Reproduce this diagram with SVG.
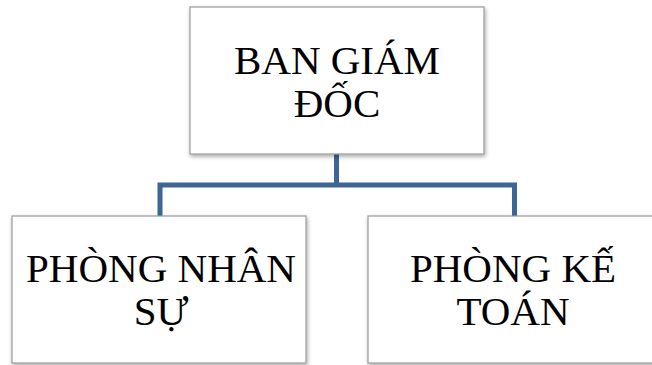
<svg xmlns="http://www.w3.org/2000/svg" width="652" height="365" viewBox="0 0 652 365">
  <defs>
    <filter id="shadow" x="-10%" y="-10%" width="120%" height="125%">
      <feGaussianBlur in="SourceAlpha" stdDeviation="2"/>
      <feOffset dx="1" dy="2" result="b"/>
      <feComponentTransfer><feFuncA type="linear" slope="0.35"/></feComponentTransfer>
      <feMerge><feMergeNode/><feMergeNode in="SourceGraphic"/></feMerge>
    </filter>
  </defs>
  <style>
    .box { fill: #ffffff; stroke: #9a9a9a; stroke-width: 1.2; filter: url(#shadow); }
    .label { font-size: 41px; fill: #000000; text-anchor: middle; }
    .link { fill: none; stroke: #3d6695; stroke-width: 5; stroke-linejoin: miter; }
  </style>
  <rect width="652" height="365" fill="#ffffff"/>

  <!-- connectors -->
  <g id="connectors">
    <path class="link" d="M336.5,154 V185 M160,216 V185 H514.5 V216"/>
  </g>

  <!-- top node -->
  <g id="ban-giam-doc" font-family="'Liberation Serif', 'Times New Roman', 'DejaVu Serif', serif">
    <rect class="box" x="190" y="7" width="294" height="147"/>
    <text class="label" x="337" y="74">BAN GIÁM</text>
    <text class="label" x="337" y="117">ĐỐC</text>
  </g>

  <!-- left node -->
  <g id="phong-nhan-su" font-family="'Liberation Serif', 'Times New Roman', 'DejaVu Serif', serif">
    <rect class="box" x="12" y="216" width="294" height="147"/>
    <text class="label" x="161" y="282">PHÒNG NHÂN</text>
    <text class="label" x="161" y="325">SỰ</text>
  </g>

  <!-- right node -->
  <g id="phong-ke-toan" font-family="'Liberation Serif', 'Times New Roman', 'DejaVu Serif', serif">
    <rect class="box" x="368" y="216" width="294" height="147"/>
    <text class="label" x="513" y="282">PHÒNG KẾ</text>
    <text class="label" x="513" y="325">TOÁN</text>
  </g>
</svg>
